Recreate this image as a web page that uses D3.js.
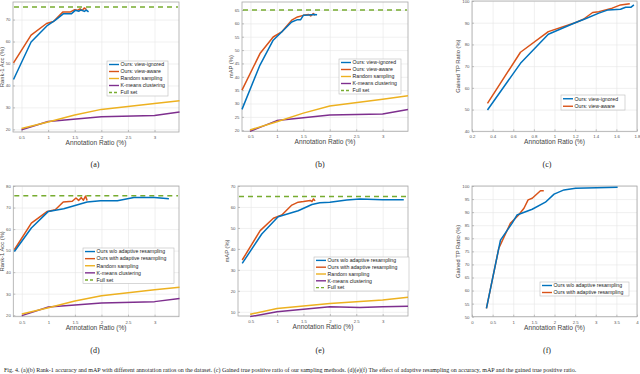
<!DOCTYPE html>
<html>
<head>
<meta charset="utf-8">
<script src="https://cdn.jsdelivr.net/npm/d3@7"></script>
<style>
  body { margin: 0; background: #fff; }
  svg { display: block; }
</style>
</head>
<body>
<svg id="chart"></svg>
<script>
const blue = "#0072BD"
const orange = "#D95319"
const yellow = "#EDB120"
const purple = "#7E2F8E"
const green = "#77AC30"

// (a) rank-1 acc, view-ignored vs view-aware
const aIgnored = [[0.35, 42.7], [0.68, 59.8], [0.99, 67.4], [1.13, 69.6], [1.29, 72.7], [1.44, 72.7], [1.51, 74.2], [1.58, 73.8], [1.62, 74.4], [1.68, 73.7], [1.72, 74.3], [1.76, 73.5]]
const aAware = [[0.35, 50.3], [0.68, 62.9], [0.97, 68.2], [1.1, 69.1], [1.28, 73.5], [1.42, 73.5], [1.5, 74.5], [1.55, 74.2], [1.6, 74.9], [1.64, 74.1], [1.68, 75.3], [1.72, 74.5]]
const aRandom = [[0.5, 20.4], [1, 23.4], [1.5, 26.5], [2, 29.1], [3, 31.8], [3.47, 33.0]]
const aKmeans = [[0.5, 19.8], [1, 23.6], [2, 25.7], [3, 26.3], [3.47, 27.9]]
const aFull = 75.7

// (b) mAP
const bIgnored = [[0.34, 27.8], [0.68, 44.4], [0.93, 53.7], [1.09, 56.8], [1.28, 60.5], [1.39, 61.4], [1.45, 61.4], [1.5, 63.0], [1.6, 63.1], [1.7, 63.3], [1.76, 63.2]]
const bAware = [[0.34, 35.0], [0.68, 48.7], [0.93, 54.9], [1.09, 56.8], [1.28, 61.2], [1.39, 62.4], [1.5, 63.0], [1.6, 63.3], [1.64, 62.8], [1.69, 63.7], [1.72, 63.0]]
const bRandom = [[0.49, 20.1], [1, 23.2], [1.5, 26.4], [2, 29.1], [3, 31.6], [3.48, 32.9]]
const bKmeans = [[0.49, 19.6], [1, 23.6], [2, 25.7], [3, 26.1], [3.48, 27.8]]
const bFull = 65

// (c) gained TP ratio
const cIgnored = [[0.35, 49.8], [0.67, 71.3], [0.94, 84.7], [1.2, 90.0], [1.3, 91.8], [1.43, 94.4], [1.52, 95.9], [1.64, 96.2], [1.69, 97.1], [1.74, 97.1], [1.77, 98.2]]
const cAware = [[0.35, 52.9], [0.67, 76.4], [0.94, 85.9], [1.2, 90.0], [1.28, 91.6], [1.37, 94.7], [1.43, 95.1], [1.56, 96.7], [1.64, 98.2], [1.73, 98.7]]

// (d) rank-1 acc, adaptive resampling
const dWithout = [[0.36, 49.6], [0.68, 60.5], [1.0, 68.2], [1.29, 69.4], [1.73, 72.6], [1.98, 73.2], [2.3, 73.2], [2.61, 74.7], [3.0, 74.7], [3.27, 74.1]]
const dWith = [[0.36, 50.4], [0.68, 62.8], [0.98, 68.2], [1.13, 69.0], [1.28, 72.6], [1.45, 72.9], [1.52, 74.4], [1.57, 73.3], [1.62, 74.6], [1.66, 73.4], [1.7, 75.3], [1.73, 73.3]]
const dRandom = [[0.5, 20.6], [1, 23.5], [1.5, 26.6], [2, 29.0], [3, 31.8], [3.47, 33.0]]
const dKmeans = [[0.5, 19.8], [1, 23.8], [2, 25.7], [3, 26.3], [3.47, 27.8]]
const dFull = 75.5

// (e) mAP, adaptive resampling
const eWithout = [[0.34, 33.1], [0.71, 47.1], [1.02, 55.3], [1.4, 58.2], [1.66, 61.2], [1.81, 62.0], [2.0, 62.3], [2.32, 63.3], [2.57, 63.8], [3.0, 63.5], [3.4, 63.5]]
const eWith = [[0.34, 34.7], [0.68, 48.7], [0.93, 54.6], [1.09, 56.2], [1.28, 60.9], [1.4, 62.3], [1.5, 62.6], [1.63, 63.1], [1.66, 62.6], [1.69, 63.8], [1.72, 62.9]]
const eRandom = [[0.49, 8.8], [1, 11.6], [2, 14.0], [3, 15.6], [3.48, 16.9]]
const eKmeans = [[0.49, 7.7], [1, 10.0], [2, 12.4], [2.57, 12.1], [3, 12.4], [3.48, 12.7]]
const eFull = 65

// (f) gained TP ratio, adaptive resampling
const fWithout = [[0.35, 53.2], [0.69, 79.3], [0.97, 85.7], [1.09, 88.9], [1.46, 91.1], [1.78, 93.8], [1.99, 96.9], [2.23, 98.5], [2.51, 99.1], [3.53, 99.5]]
const fWith = [[0.35, 53.2], [0.65, 76.2], [0.93, 85.7], [1.13, 88.9], [1.26, 91.5], [1.36, 94.7], [1.46, 95.3], [1.66, 98.2], [1.74, 98.2]]

const legendAB = ["Ours: view-ignored", "Ours: view-aware", "Random sampling", "K-means clustering", "Full set"]
const legendDE = ["Ours w/o adaptive resampling", "Ours with adaptive resampling", "Random sampling", "K-means clustering", "Full set"]

const ratioTicks = [0.5, 1, 1.5, 2, 2.5, 3]
const ratioTicksC = [0.2, 0.4, 0.6, 0.8, 1, 1.2, 1.4, 1.6, 1.8]
const ratioTicksF = [0, 0.5, 1, 1.5, 2, 2.5, 3, 3.5, 4]

const panels = [
  { box: [13, 2, 179, 132], xd: [0.34, 3.46], yd: [18.8, 78], xt: ratioTicks, yt: d3.range(20, 71, 10),
    ylab: "Rank-1 Acc (%)", ylx: 2.4, series: [aIgnored, aAware, aRandom, aKmeans], full: aFull, names: legendAB,
    leg: [107, 61, 168, 96], cap: "(a)", capPos: [95, 167] },
  { box: [242, 2, 408, 131.3], xd: [0.34, 3.48], yd: [19.6, 68], xt: ratioTicks, yt: d3.range(20, 66, 5),
    ylab: "mAP (%)", ylx: 231, series: [bIgnored, bAware, bRandom, bKmeans], full: bFull, names: legendAB,
    leg: [339, 59, 401, 94], cap: "(b)", capPos: [320, 167] },
  { box: [472, 1, 637, 131.3], xd: [0.2, 1.8], yd: [40, 100], xt: ratioTicksC, yt: d3.range(40, 101, 10),
    ylab: "Gained TP Ratio (%)", ylx: 458, series: [cIgnored, cAware], names: legendAB.slice(0, 2),
    leg: [561, 95, 625, 110], cap: "(c)", capPos: [547, 167] },
  { box: [13.3, 186, 179, 316.7], xd: [0.34, 3.46], yd: [19.3, 80], xt: ratioTicks, yt: d3.range(20, 81, 10),
    ylab: "Rank-1 Acc (%)", ylx: 2.4, series: [dWithout, dWith, dRandom, dKmeans], full: dFull, names: legendDE,
    leg: [83, 248, 174, 283.5], cap: "(d)", capPos: [95, 353] },
  { box: [238, 186, 408, 316], xd: [0.26, 3.48], yd: [8, 70], xt: ratioTicks, yt: d3.range(10, 71, 10),
    ylab: "mAP (%)", ylx: 227, series: [eWithout, eWith, eRandom, eKmeans], full: eFull, names: legendDE,
    leg: [314, 257, 409, 291], cap: "(e)", capPos: [320, 353] },
  { box: [472, 186, 637, 316.7], xd: [0, 4], yd: [50, 100], xt: ratioTicksF, yt: d3.range(50, 101, 5),
    ylab: "Gained TP Ratio (%)", ylx: 458, series: [fWithout, fWith], names: legendDE.slice(0, 2),
    leg: [540, 282, 629, 296], cap: "(f)", capPos: [547, 353] }
]

const colors = [blue, orange, yellow, purple]
const fmt = (d) => String(+d.toFixed(1))

const svg = d3.select("#chart").attr("width", 640).attr("height", 374)
  .style("font-family", "'Liberation Sans', Arial, sans-serif")

panels.forEach((p) => {
  const [x0, y0, x1, y1] = p.box
  const xScale = d3.scaleLinear().domain(p.xd).range([x0, x1])
  const yScale = d3.scaleLinear().domain(p.yd).range([y1, y0])
  const g = svg.append("g")

  // grid
  g.append("g")
    .attr("transform", "translate(0," + y1 + ")")
    .call(d3.axisBottom(xScale).tickValues(p.xt).tickSize(-(y1 - y0)).tickFormat(""))
    .call((s) => s.select(".domain").remove())
    .selectAll("line").attr("stroke", "#e6e6e6").attr("stroke-width", 0.6)
  g.append("g")
    .attr("transform", "translate(" + x0 + ",0)")
    .call(d3.axisLeft(yScale).tickValues(p.yt).tickSize(-(x1 - x0)).tickFormat(""))
    .call((s) => s.select(".domain").remove())
    .selectAll("line").attr("stroke", "#e6e6e6").attr("stroke-width", 0.6)

  // axes with inward ticks
  const xAxis = g.append("g")
    .attr("transform", "translate(0," + y1 + ")")
    .call(d3.axisBottom(xScale).tickValues(p.xt).tickSize(-2).tickPadding(4).tickFormat(fmt))
  const yAxis = g.append("g")
    .attr("transform", "translate(" + x0 + ",0)")
    .call(d3.axisLeft(yScale).tickValues(p.yt).tickSize(-2).tickPadding(2.5).tickFormat(fmt))
  ;[xAxis, yAxis].forEach((a) => {
    a.select(".domain").remove()
    a.selectAll("line").attr("stroke", "#9a9a9a").attr("stroke-width", 0.6)
    a.selectAll("text").attr("fill", "#555").style("font-size", "4.3px")
  })

  // box
  g.append("rect")
    .attr("x", x0).attr("y", y0)
    .attr("width", x1 - x0).attr("height", y1 - y0)
    .attr("fill", "none").attr("stroke", "#a8a8a8").attr("stroke-width", 0.8)

  const line = d3.line().x((d) => xScale(d[0])).y((d) => yScale(d[1]))

  if (p.full !== undefined) {
    g.append("line")
      .attr("x1", xScale(p.xd[0]) + 1).attr("x2", xScale(p.xd[1]) - 1)
      .attr("y1", yScale(p.full)).attr("y2", yScale(p.full))
      .attr("stroke", green).attr("stroke-width", 1.4)
      .attr("stroke-dasharray", "5 4")
  }

  // draw random/kmeans first, then ours
  const order = p.series.map((s, i) => i).reverse()
  order.forEach((i) => {
    g.append("path")
      .datum(p.series[i])
      .attr("fill", "none")
      .attr("stroke", colors[i])
      .attr("stroke-width", 1.5)
      .attr("stroke-linejoin", "round")
      .attr("d", line)
  })

  // labels
  g.append("text")
    .attr("x", (x0 + x1) / 2).attr("y", y1 + 13)
    .attr("text-anchor", "middle").attr("fill", "#444")
    .style("font-size", "6.6px")
    .text("Annotation Ratio (%)")
  g.append("text")
    .attr("transform", "translate(" + p.ylx + "," + ((y0 + y1) / 2) + ") rotate(-90)")
    .attr("text-anchor", "middle").attr("dy", "0.35em").attr("fill", "#444")
    .style("font-size", "5.8px")
    .text(p.ylab)

  // legend
  const [lx0, ly0, lx1, ly1] = p.leg
  g.append("rect")
    .attr("x", lx0).attr("y", ly0)
    .attr("width", lx1 - lx0).attr("height", ly1 - ly0)
    .attr("fill", "#fff").attr("stroke", "#bdbdbd").attr("stroke-width", 0.6)
  const step = (ly1 - ly0) / p.names.length
  p.names.forEach((name, i) => {
    const yy = ly0 + step * (i + 0.5)
    const isFull = name === "Full set"
    g.append("line")
      .attr("x1", lx0 + 2).attr("x2", lx0 + 12)
      .attr("y1", yy).attr("y2", yy)
      .attr("stroke", isFull ? green : colors[i])
      .attr("stroke-width", 1.4)
      .attr("stroke-dasharray", isFull ? "3 2" : null)
    g.append("text")
      .attr("x", lx0 + 13.5).attr("y", yy).attr("dy", "0.35em")
      .attr("fill", "#222").style("font-size", "5.2px")
      .text(name)
  })

  // caption
  svg.append("text")
    .attr("x", p.capPos[0]).attr("y", p.capPos[1])
    .attr("text-anchor", "middle")
    .style("font-family", "'Liberation Serif', 'DejaVu Serif', serif")
    .style("font-size", "8px").attr("fill", "#222")
    .text(p.cap)
})

// figure caption line at the bottom edge
svg.append("text")
  .attr("x", 4).attr("y", 372)
  .style("font-family", "'Liberation Serif', 'DejaVu Serif', serif")
  .style("font-size", "6px").attr("fill", "#222")
  .text("Fig. 4. (a)(b) Rank-1 accuracy and mAP with different annotation ratios on the dataset. (c) Gained true positive ratio of our sampling methods. (d)(e)(f) The effect of adaptive resampling on accuracy, mAP and the gained true positive ratio.")
</script>
</body>
</html>
